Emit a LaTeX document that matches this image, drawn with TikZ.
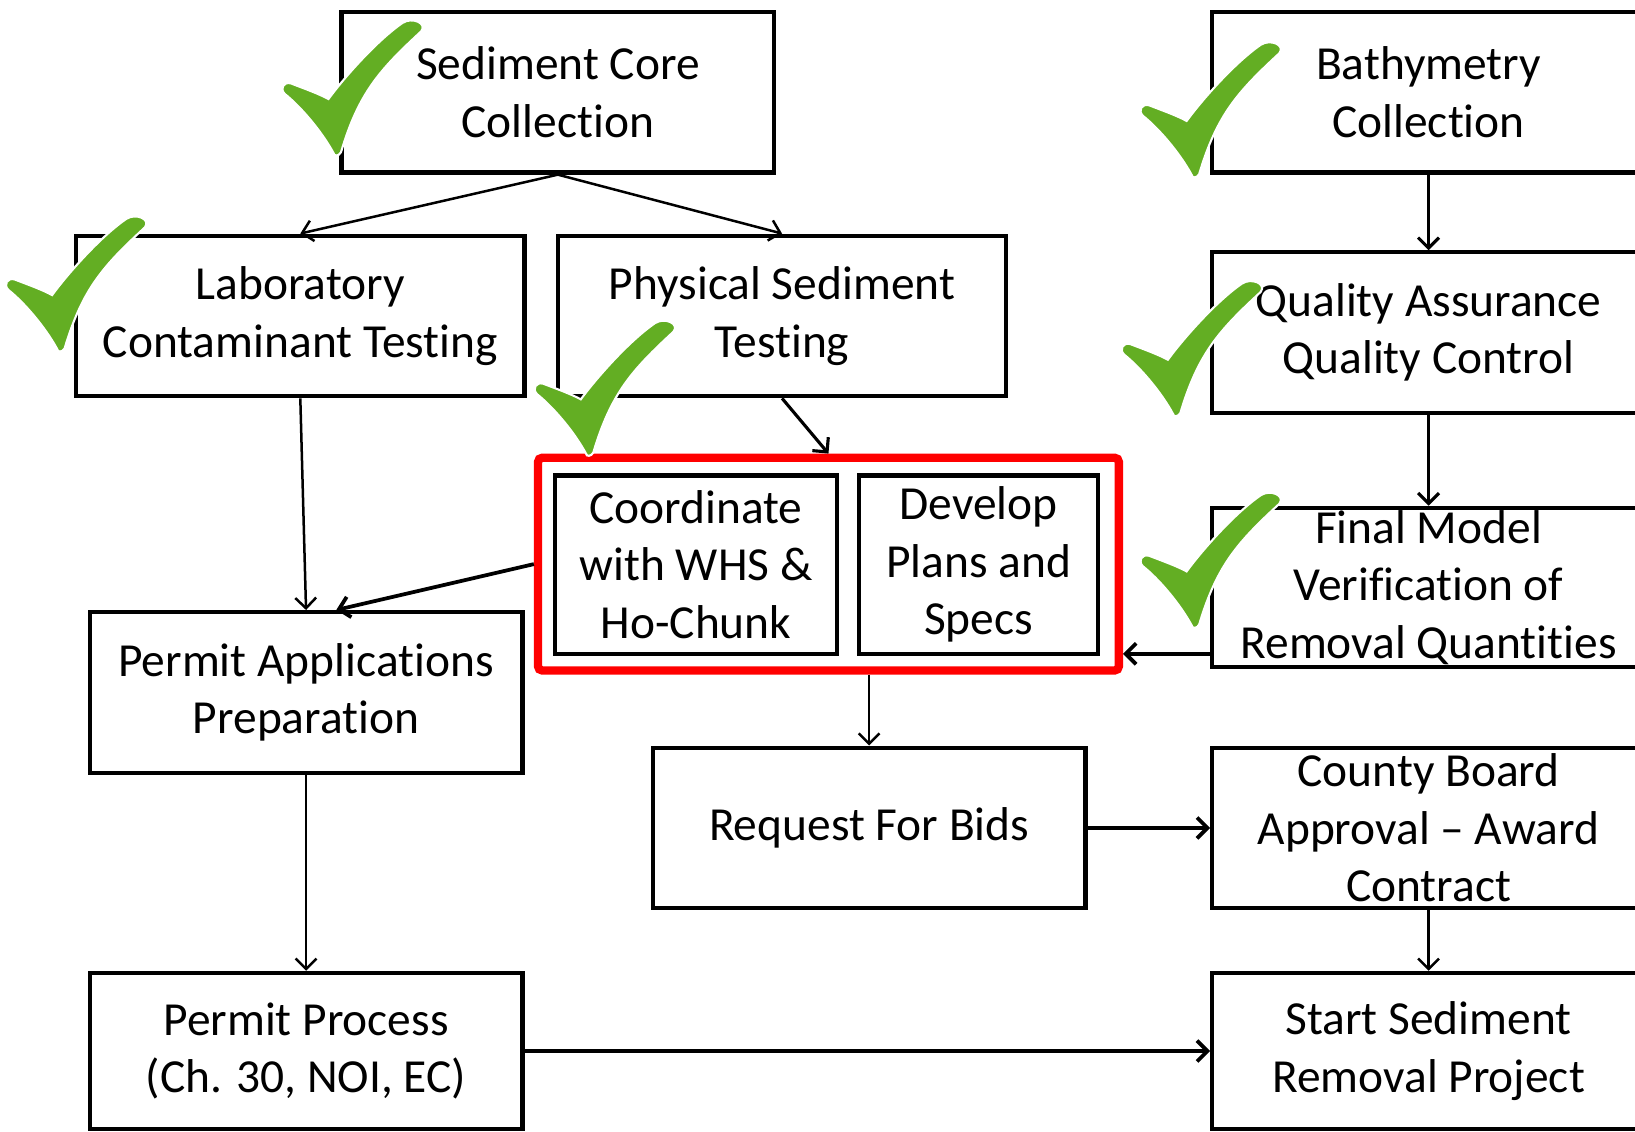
\documentclass[tikz,border=0pt]{standalone}
\usepackage{fontspec}
\setmainfont{Carlito}[Ligatures=NoCommon]
\usetikzlibrary{arrows.meta,positioning}
\definecolor{tickgreen}{RGB}{99,174,35}
\definecolor{grpred}{RGB}{255,0,0}

\tikzset{tick/.pic={
	\filldraw[-,fill=tickgreen,draw=white,line width=1pt]
	(0,0) .. controls (-12,-22) and (-32,-45) .. (-47,-57)
	.. controls (-52,-62) and (-48,-69) .. (-41,-67)
	.. controls (-28,-62) and (-14,-57) .. (-5,-52)
	.. controls (8,-70) and (40,-107) .. (66,-125)
	.. controls (75,-131) and (90,-125) .. (84,-117)
	.. controls (44,-80) and (24,-58) .. (7,-1)
	.. controls (5,3) and (0,3) .. cycle;
}}

\begin{document}
\begin{tikzpicture}[x=0.5pt,y=-0.5pt,->,>={Straight Barb[length=5pt,width=10pt]},
	main node/.style={rectangle,draw,line width=2pt,minimum width=207.5pt,minimum height=77pt,align=center,inner sep=0pt,font=\fontsize{22.75}{27.5}\selectfont},
	group box/.style={rectangle,draw=grpred,line width=4pt,rounded corners=2pt,minimum width=278.5pt,minimum height=102pt},
	flow/.style={line width=1.2pt}]
	\useasboundingbox (0,0) rectangle (1568,1085);
	\clip (0,0) rectangle (1568,1085);
	
	% Nodos
	\node[main node] (1) at (535,88.5) {Sediment Core\\Collection};
	\node[main node] (2) at (1370,88.5) {Bathymetry\\Collection};
	\node[main node,minimum width=215pt] (3) at (288,303) {Laboratory\\Contaminant Testing};
	\node[main node,minimum width=215pt] (4) at (750,303) {Physical Sediment\\Testing};
	\node[main node] (5) at (1370,319) {Quality Assurance\\Quality Control};
	\node[group box] (g) at (794.5,541) {};
	\node[main node,minimum width=135.5pt,minimum height=85.5pt] (6) at (667.5,541.5) {Coordinate\\with WHS \&\\Ho-Chunk};
	\node[main node,minimum width=114.5pt,minimum height=85.5pt] (7) at (938.5,541.5) {Develop\\Plans and\\Specs};
	\node[main node,minimum height=76.5pt] (8) at (1370,563.5) {Final Model\\Verification of\\Removal Quantities};
	\node[main node] (9) at (293.5,664) {Permit Applications\\Preparation};
	\node[main node] (10) at (833.5,794) {Request For Bids};
	\node[main node] (11) at (1370,794) {County Board\\Approval – Award\\Contract};
	\node[main node,minimum height=75pt] (12) at (293.5,1008) {Permit Process\\(Ch. 30, NOI, EC)};
	\node[main node,minimum height=75pt] (13) at (1370,1008) {Start Sediment\\Removal Project};
	
	% Conexiones
	\path[flow]
	(1.south) edge (3.north)
	(1.south) edge (4.north)
	(3.south) edge (9.north)
	(g.south -| 10.north) edge (10.north)
	(9.south) edge (12.north)
	(11.south) edge (13.north);
	\path[flow,line width=1.5pt]
	(2.south) edge (5.north)
	(5.south) edge (8.north)
	(4.south) edge (g.north);
	\path[flow,line width=1.8pt]
	(g.west) edge ([xshift=14.5pt]9.north)
	([yshift=-31.75pt]8.west) edge ([yshift=-31.75pt]8.west -| g.east)
	(10.east) edge (11.west)
	(12.east) edge (13.west);
	
	% Marcas de verificación
	\foreach \p in {(320,147),(55,335),(562,435),(1143,168),(1125,397),(1143,600)}
	\pic at \p {tick};
\end{tikzpicture}
\end{document}
